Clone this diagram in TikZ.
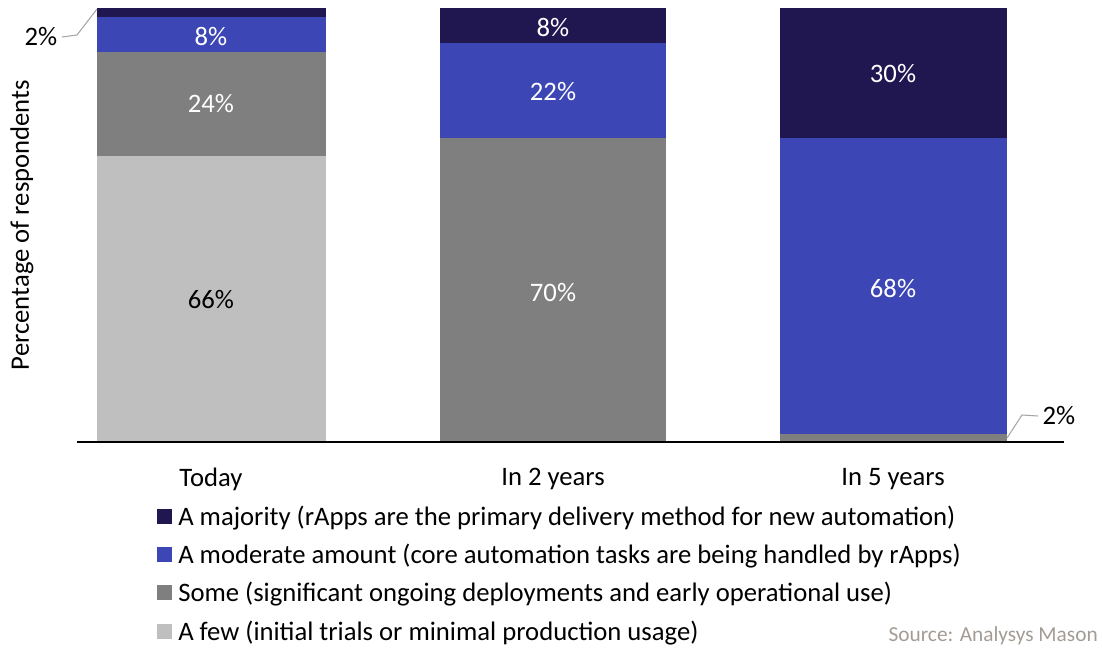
\documentclass[tikz,border=0pt]{standalone}
\usepackage{fontspec}
\setmainfont{Carlito}
\usepackage{tikz}
\definecolor{navy}{HTML}{201751}
\definecolor{mblue}{HTML}{3C46B4}
\definecolor{mgray}{HTML}{7F7F7F}
\definecolor{lgray}{HTML}{BFBFBF}
\definecolor{srcgray}{HTML}{A39C95}
\tikzset{
  val/.style={font=\fontsize{20}{24}\selectfont},
  wval/.style={val,text=white},
  cat/.style={font=\fontsize{20}{24}\selectfont},
  key/.style={anchor=west,font=\fontsize{20}{24}\selectfont,inner xsep=0pt},
  leader/.style={draw=gray!70,line width=0.8pt}
}
\begin{document}
\begin{tikzpicture}[x=0.75pt,y=-0.75pt]
  \useasboundingbox (0,0) rectangle (1102,647);
  % Today
  \fill[lgray] (97,156) rectangle (326,442);
  \fill[mgray] (97,52) rectangle (326,156);
  \fill[mblue] (97,17) rectangle (326,52);
  \fill[navy] (97,8) rectangle (326,17);
  % In 2 years
  \fill[mgray] (440,138) rectangle (666,442);
  \fill[mblue] (440,43) rectangle (666,138);
  \fill[navy] (440,8) rectangle (666,43);
  % In 5 years
  \fill[mgray] (780,434) rectangle (1007,442);
  \fill[mblue] (780,138) rectangle (1007,434);
  \fill[navy] (780,8) rectangle (1007,138);
  \draw[line width=1pt] (77,442) -- (1064,442);
  \node(t66) at (211,300)[val]{66\%};
  \node(t24) at (211,104)[wval]{24\%};
  \node(t8) at (211,36)[wval]{8\%};
  \node(y70) at (553,293)[wval]{70\%};
  \node(y22) at (553,92)[wval]{22\%};
  \node(y8) at (553,27)[wval]{8\%};
  \node(f68) at (893,288)[wval]{68\%};
  \node(f30) at (893,74)[wval]{30\%};
  \node(t2) at (41,37)[val]{2\%};
  \node(f2) at (1059,416)[val]{2\%};
  \coordinate(tc) at (97,9);
  \coordinate(fc) at (1007,438);
  \draw[leader] (t2.east) -- (77,35) -- (tc);
  \draw[leader] (fc) -- (1022,415) -- (f2.west);
  \node(ylab) at (22,225)[rotate=90,cat]{Percentage of respondents};
  \node(c1) at (211,479)[cat]{Today};
  \node(c2) at (553,479)[cat]{In 2 years};
  \node(c3) at (893,479)[cat]{In 5 years};
  \fill[navy] (157,509) rectangle (172,524);
  \fill[mblue] (157,547) rectangle (172,562);
  \fill[mgray] (157,585) rectangle (172,600);
  \fill[lgray] (157,624) rectangle (172,639);
  \node(k1) at (178,518)[key]{A majority (rApps are the primary delivery method for new automation)};
  \node(k2) at (178,556)[key]{A moderate amount (core automation tasks are being handled by rApps)};
  \node(k3) at (178,594)[key]{Some (significant ongoing deployments and early operational use)};
  \node(k4) at (178,633)[key]{A few (initial trials or minimal production usage)};
  \node(src) at (1098,636)[anchor=east,inner xsep=0pt,text=srcgray,font=\fontsize{16}{19}\selectfont]{Source: Analysys Mason};
\end{tikzpicture}
\end{document}
